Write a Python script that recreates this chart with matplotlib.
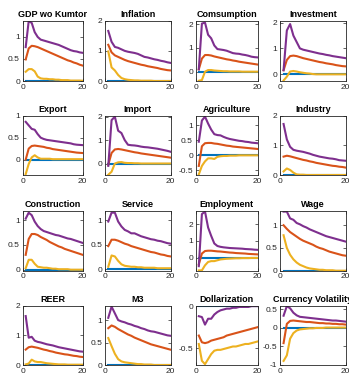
import numpy as np
import matplotlib
matplotlib.use('Agg')
import matplotlib.pyplot as plt
from matplotlib.ticker import FormatStrFormatter

plt.rcParams['font.family'] = ['Liberation Sans', 'DejaVu Sans']

# horizon
t = np.arange(1, 21)

titles = ['GDP wo Kumtor', 'Inflation', 'Comsumption', 'Investment',
          'Export', 'Import', 'Agriculture', 'Industry',
          'Construction', 'Service', 'Employment', 'Wage',
          'REER', 'M3', 'Dollarization', 'Currency Volatility']

# impulse responses (blue, orange, yellow, purple) per panel
zero = [0.0] * 20

gdp_o = [0.49, 0.74, 0.80, 0.79, 0.77, 0.74, 0.71, 0.68, 0.65, 0.62, 0.59, 0.56, 0.53, 0.50, 0.47, 0.45, 0.42, 0.40, 0.37, 0.35]
gdp_y = [0.21, 0.27, 0.27, 0.22, 0.10, 0.06, 0.05, 0.05, 0.04, 0.04, 0.03, 0.03, 0.02, 0.02, 0.02, 0.01, 0.01, 0.01, 0.01, 0.005]
gdp_p = [0.77, 1.36, 1.32, 1.11, 1.00, 0.94, 0.92, 0.90, 0.88, 0.86, 0.84, 0.82, 0.79, 0.76, 0.73, 0.70, 0.68, 0.67, 0.65, 0.64]

inf_o = [1.20, 0.95, 0.85, 0.80, 0.75, 0.70, 0.66, 0.63, 0.60, 0.57, 0.54, 0.52, 0.49, 0.47, 0.45, 0.43, 0.40, 0.38, 0.36, 0.35]
inf_y = [0.98, 0.45, 0.35, 0.20, 0.10, 0.06, 0.04, 0.03, 0.02, 0.02, 0.01, 0.01, 0.01, 0.01, 0.0, 0.0, 0.0, 0.0, 0.0, 0.0]
inf_p = [1.66, 1.30, 1.13, 1.10, 1.05, 1.00, 0.97, 0.95, 0.93, 0.90, 0.85, 0.80, 0.78, 0.75, 0.72, 0.70, 0.67, 0.65, 0.62, 0.60]

con_o = [0.10, 0.55, 0.70, 0.70, 0.68, 0.64, 0.61, 0.58, 0.55, 0.52, 0.50, 0.47, 0.45, 0.42, 0.40, 0.38, 0.36, 0.34, 0.32, 0.30]
con_y = [-0.38, -0.35, 0.00, 0.07, 0.07, 0.05, 0.04, 0.03, 0.02, 0.02, 0.01, 0.01, 0.01, 0.01, 0.0, 0.0, 0.0, 0.0, 0.0, 0.0]
con_p = [0.10, 2.02, 2.06, 1.55, 1.40, 1.10, 0.95, 0.93, 0.91, 0.88, 0.83, 0.78, 0.76, 0.75, 0.72, 0.70, 0.67, 0.63, 0.61, 0.60]

inv_o = [0.15, 0.55, 0.70, 0.72, 0.70, 0.66, 0.62, 0.59, 0.56, 0.53, 0.50, 0.47, 0.45, 0.42, 0.40, 0.38, 0.35, 0.33, 0.31, 0.30]
inv_y = [-0.25, -0.10, 0.10, 0.12, 0.10, 0.07, 0.05, 0.03, 0.02, 0.00, -0.01, -0.01, -0.01, -0.01, -0.01, -0.01, -0.01, -0.01, -0.01, -0.01]
inv_p = [0.15, 1.70, 1.95, 1.50, 1.25, 1.00, 0.95, 0.92, 0.89, 0.86, 0.83, 0.80, 0.78, 0.75, 0.73, 0.70, 0.68, 0.66, 0.64, 0.62]

exp_o = [0.00, 0.25, 0.31, 0.32, 0.31, 0.30, 0.29, 0.27, 0.26, 0.24, 0.23, 0.22, 0.21, 0.20, 0.19, 0.18, 0.17, 0.16, 0.155, 0.15]
exp_y = [-0.33, -0.10, 0.05, 0.10, 0.05, 0.02, 0.02, 0.02, 0.02, 0.01, 0.01, 0.01, 0.01, 0.01, 0.01, 0.01, 0.01, 0.01, 0.01, 0.01]
exp_p = [0.86, 0.78, 0.70, 0.68, 0.58, 0.50, 0.47, 0.45, 0.44, 0.43, 0.42, 0.41, 0.40, 0.39, 0.38, 0.37, 0.35, 0.34, 0.335, 0.33]

imp_o = [-0.05, 0.45, 0.60, 0.62, 0.60, 0.57, 0.54, 0.51, 0.48, 0.46, 0.43, 0.41, 0.39, 0.37, 0.35, 0.33, 0.31, 0.29, 0.27, 0.25]
imp_y = [-0.48, -0.35, 0.00, 0.05, 0.06, 0.03, 0.02, 0.02, 0.01, 0.01, 0.0, 0.0, 0.0, 0.0, 0.0, 0.0, 0.0, 0.0, 0.0, 0.0]
imp_p = [-0.10, 1.85, 2.00, 1.40, 1.30, 1.00, 0.80, 0.78, 0.77, 0.75, 0.72, 0.70, 0.69, 0.67, 0.65, 0.63, 0.60, 0.57, 0.54, 0.50]

agr_o = [-0.35, 0.30, 0.40, 0.41, 0.41, 0.39, 0.38, 0.36, 0.34, 0.32, 0.31, 0.29, 0.28, 0.27, 0.26, 0.25, 0.24, 0.23, 0.22, 0.21]
agr_y = [-0.63, -0.35, -0.20, -0.10, -0.10, -0.12, -0.05, -0.03, -0.02, -0.02, -0.01, -0.01, -0.01, 0.0, 0.0, 0.0, 0.0, 0.0, 0.0, 0.0]
agr_p = [0.45, 1.15, 1.28, 1.05, 0.85, 0.70, 0.67, 0.66, 0.61, 0.57, 0.54, 0.52, 0.50, 0.48, 0.47, 0.45, 0.44, 0.42, 0.41, 0.40]

ind_o = [0.62, 0.65, 0.63, 0.60, 0.57, 0.54, 0.51, 0.49, 0.46, 0.44, 0.41, 0.39, 0.37, 0.35, 0.33, 0.31, 0.30, 0.28, 0.27, 0.25]
ind_y = [0.12, 0.22, 0.17, 0.08, 0.02, 0.01, 0.01, 0.0, 0.0, 0.0, 0.0, 0.0, 0.0, 0.0, 0.0, 0.0, 0.0, 0.0, 0.0, 0.0]
ind_p = [1.72, 1.20, 0.95, 0.85, 0.82, 0.80, 0.78, 0.75, 0.72, 0.68, 0.65, 0.62, 0.60, 0.58, 0.56, 0.55, 0.53, 0.50, 0.49, 0.48]

cst_o = [0.30, 0.62, 0.72, 0.72, 0.70, 0.66, 0.63, 0.60, 0.56, 0.53, 0.50, 0.47, 0.45, 0.42, 0.40, 0.38, 0.36, 0.34, 0.32, 0.30]
cst_y = [0.03, 0.20, 0.20, 0.12, 0.06, 0.05, 0.04, 0.04, 0.03, 0.02, 0.02, 0.01, 0.01, 0.01, 0.01, 0.0, 0.0, 0.0, 0.0, 0.0]
cst_p = [1.03, 1.15, 1.10, 0.97, 0.88, 0.82, 0.78, 0.76, 0.74, 0.72, 0.70, 0.69, 0.67, 0.65, 0.63, 0.62, 0.60, 0.58, 0.56, 0.54]

srv_o = [0.47, 0.60, 0.60, 0.58, 0.55, 0.52, 0.50, 0.47, 0.45, 0.43, 0.41, 0.39, 0.37, 0.35, 0.34, 0.32, 0.30, 0.29, 0.27, 0.26]
srv_y = [0.05, 0.28, 0.26, 0.17, 0.10, 0.07, 0.06, 0.05, 0.05, 0.04, 0.04, 0.03, 0.03, 0.03, 0.03, 0.02, 0.02, 0.02, 0.02, 0.02]
srv_p = [0.97, 1.15, 1.15, 0.97, 0.87, 0.80, 0.77, 0.73, 0.73, 0.70, 0.67, 0.65, 0.63, 0.61, 0.60, 0.58, 0.57, 0.55, 0.53, 0.52]

emp_o = [-0.40, 0.25, 0.40, 0.42, 0.42, 0.40, 0.38, 0.37, 0.35, 0.33, 0.31, 0.30, 0.28, 0.27, 0.26, 0.25, 0.23, 0.22, 0.21, 0.20]
emp_y = [-0.75, -0.75, -0.45, -0.25, -0.20, -0.20, -0.15, -0.10, -0.08, -0.06, -0.05, -0.04, -0.03, -0.03, -0.02, -0.02, -0.02, -0.01, -0.01, -0.01]
emp_p = [-0.50, 2.60, 2.75, 1.80, 1.30, 0.85, 0.70, 0.65, 0.62, 0.60, 0.58, 0.57, 0.56, 0.55, 0.54, 0.52, 0.51, 0.50, 0.48, 0.47]

wag_o = [1.00, 0.92, 0.85, 0.80, 0.75, 0.70, 0.66, 0.63, 0.60, 0.57, 0.53, 0.50, 0.48, 0.45, 0.42, 0.40, 0.38, 0.36, 0.34, 0.33]
wag_y = [0.78, 0.50, 0.35, 0.25, 0.18, 0.13, 0.10, 0.07, 0.05, 0.04, 0.03, 0.02, 0.02, 0.01, 0.01, 0.01, 0.0, 0.0, 0.0, 0.0]
wag_p = [1.30, 1.30, 1.15, 1.12, 1.05, 1.02, 0.98, 0.95, 0.91, 0.88, 0.85, 0.82, 0.79, 0.76, 0.74, 0.72, 0.70, 0.68, 0.66, 0.64]

reer_o = [0.52, 0.60, 0.62, 0.60, 0.58, 0.55, 0.52, 0.50, 0.47, 0.45, 0.42, 0.40, 0.38, 0.36, 0.35, 0.33, 0.31, 0.30, 0.28, 0.27]
reer_y = [0.02, 0.05, 0.18, 0.12, 0.10, 0.10, 0.08, 0.06, 0.05, 0.04, 0.03, 0.02, 0.02, 0.02, 0.01, 0.01, 0.01, 0.01, 0.01, 0.01]
reer_p = [1.65, 0.92, 0.95, 0.82, 0.78, 0.76, 0.73, 0.70, 0.68, 0.66, 0.63, 0.60, 0.58, 0.56, 0.54, 0.52, 0.50, 0.48, 0.46, 0.45]

m3_o = [0.82, 0.88, 0.85, 0.80, 0.76, 0.72, 0.68, 0.65, 0.61, 0.58, 0.55, 0.52, 0.49, 0.46, 0.44, 0.42, 0.40, 0.38, 0.36, 0.34]
m3_y = [0.60, 0.42, 0.25, 0.13, 0.08, 0.06, 0.05, 0.04, 0.03, 0.02, 0.02, 0.01, 0.01, 0.01, 0.0, 0.0, 0.0, 0.0, 0.0, 0.0]
m3_p = [1.05, 1.30, 1.15, 1.00, 0.97, 0.95, 0.92, 0.90, 0.87, 0.85, 0.82, 0.80, 0.77, 0.75, 0.74, 0.72, 0.70, 0.68, 0.66, 0.65]

dol_o = [-0.35, -0.43, -0.44, -0.43, -0.41, -0.40, -0.39, -0.38, -0.37, -0.35, -0.34, -0.33, -0.32, -0.31, -0.30, -0.29, -0.28, -0.27, -0.26, -0.25]
dol_y = [-0.45, -0.65, -0.69, -0.63, -0.57, -0.53, -0.52, -0.52, -0.51, -0.50, -0.49, -0.48, -0.48, -0.47, -0.46, -0.45, -0.45, -0.44, -0.43, -0.42]
dol_p = [-0.12, -0.13, -0.22, -0.15, -0.15, -0.10, -0.07, -0.05, -0.04, -0.03, -0.03, -0.02, -0.02, -0.01, -0.01, -0.01, -0.01, 0.0, 0.0, 0.0]

cv_o = [-0.42, 0.10, 0.18, 0.19, 0.18, 0.17, 0.16, 0.15, 0.15, 0.14, 0.13, 0.12, 0.12, 0.11, 0.11, 0.10, 0.10, 0.09, 0.09, 0.08]
cv_y = [-0.90, -0.75, -0.30, -0.15, -0.08, -0.05, -0.04, -0.03, -0.02, -0.02, -0.01, -0.01, -0.01, 0.0, 0.0, 0.0, 0.0, 0.0, 0.0, 0.0]
cv_p = [0.32, 0.58, 0.52, 0.40, 0.33, 0.29, 0.28, 0.27, 0.26, 0.25, 0.24, 0.23, 0.22, 0.21, 0.20, 0.19, 0.19, 0.18, 0.17, 0.16]

series = [
    (zero, gdp_o, gdp_y, gdp_p), (zero, inf_o, inf_y, inf_p),
    (zero, con_o, con_y, con_p), (zero, inv_o, inv_y, inv_p),
    (zero, exp_o, exp_y, exp_p), (zero, imp_o, imp_y, imp_p),
    (zero, agr_o, agr_y, agr_p), (zero, ind_o, ind_y, ind_p),
    (zero, cst_o, cst_y, cst_p), (zero, srv_o, srv_y, srv_p),
    (zero, emp_o, emp_y, emp_p), (zero, wag_o, wag_y, wag_p),
    (zero, reer_o, reer_y, reer_p), (zero, m3_o, m3_y, m3_p),
    (zero, dol_o, dol_y, dol_p), (zero, cv_o, cv_y, cv_p),
]

ylims = [(0, 1.37), (0, 2), (-0.39, 2.14), (-0.27, 2.08),
         (-0.35, 1.0), (-0.49, 2.04), (-0.65, 1.31), (0, 2),
         (-0.02, 1.19), (-0.03, 1.19), (-0.77, 2.8), (0, 1.32),
         (0, 2), (0, 1.32), (-0.7, 0.005), (-1.01, 0.59)]

yticks = [[0, 0.5, 1], [0, 1, 2], [0, 1, 2], [0, 1, 2],
          [0, 0.5, 1], [0, 1, 2], [-0.5, 0, 0.5, 1], [0, 1, 2],
          [0, 0.5, 1], [0, 0.5, 1], [0, 1, 2], [0, 0.5, 1],
          [0, 1, 2], [0, 0.5, 1], [-0.5, 0], [-1, -0.5, 0, 0.5]]

colors = ['#0072BD', '#D95319', '#EDB120', '#7E2F8E']

W, H = 349, 378
fig = plt.figure(figsize=(W / 100, H / 100), dpi=100)

# axes boxes in pixels: (left, right) per column, (top, bottom) per row
cols = [(22.7, 82.7), (105, 170.7), (195.7, 257.7), (280.3, 345.7)]
rows = [(20.7, 81), (115.7, 175), (210.7, 270.7), (305.7, 365)]

for i, title in enumerate(titles):
    r, c = divmod(i, 4)
    x0, x1 = cols[c]
    y0, y1 = rows[r]
    ax = fig.add_axes([x0 / W, 1 - y1 / H, (x1 - x0) / W, (y1 - y0) / H])
    for s, col in zip(series[i], colors):
        ax.plot(t, s, color=col, lw=1.5)
    ax.set_xlim(0, 20)
    ax.set_ylim(*ylims[i])
    ax.set_xticks([0, 20])
    ax.set_yticks(yticks[i])
    ax.yaxis.set_major_formatter(FormatStrFormatter('%g'))
    ax.tick_params(direction='in', top=True, right=True, length=2, width=0.5,
                   labelsize=6, colors='#262626', pad=2)
    for sp in ax.spines.values():
        sp.set_linewidth(0.6)
        sp.set_color('#262626')
    ax.set_title(title, fontsize=6.5, fontweight='bold', pad=3, color='black')

fig.savefig('out.png', dpi=100)
